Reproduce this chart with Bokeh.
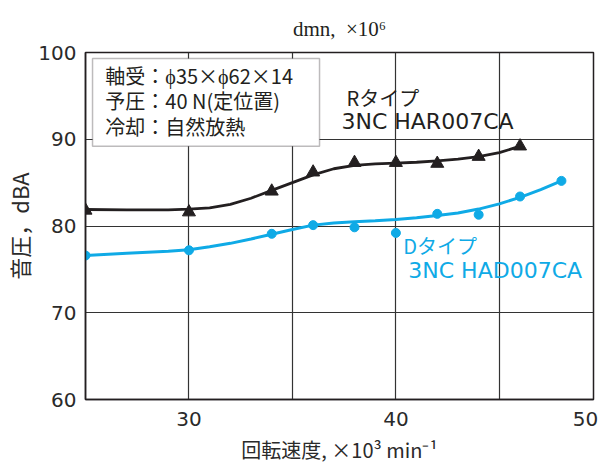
from bokeh.plotting import figure
from bokeh.models import Label, BoxAnnotation, FixedTicker
from bokeh.embed import file_html
from bokeh.resources import INLINE

# ---- data ----
r_x = [25, 30, 34, 36, 38, 40, 42, 44, 46]
r_y = [81.8, 81.6, 84.0, 86.2, 87.3, 87.3, 87.2, 88.0, 89.2]
r_curve_x = [25, 27, 29, 30, 31, 32, 33, 34, 35, 36, 37, 38, 39, 40, 41, 42, 43, 44, 45, 46]
r_curve_y = [81.9, 81.85, 81.85, 81.95, 82.1, 82.5, 83.2, 84.1, 85.0, 85.9, 86.6, 87.0,
             87.15, 87.25, 87.35, 87.5, 87.7, 88.0, 88.45, 89.2]

d_x = [25, 30, 34, 36, 38, 40, 42, 44, 46, 48]
d_y = [76.6, 77.2, 79.1, 80.1, 79.85, 79.2, 81.4, 81.3, 83.4, 85.2]
d_curve_x = [25, 27, 29, 30, 31, 32, 33, 34, 35, 36, 37, 38, 39, 40, 41, 42, 43, 44, 45, 46, 47, 48]
d_curve_y = [76.6, 76.85, 77.1, 77.25, 77.6, 78.0, 78.5, 79.05, 79.6, 80.1, 80.35, 80.5,
             80.6, 80.75, 80.95, 81.2, 81.5, 81.95, 82.55, 83.3, 84.2, 85.2]

x_ticks = [30, 40, 50]
x_grid = [30, 35, 40, 45]
y_ticks = [60, 70, 80, 90, 100]
y_grid = [70, 80, 90]

info_lines = ["軸受：ϕ35×ϕ62×14", "予圧：40 N(定位置)", "冷却：自然放熱"]
r_label = ["Rタイプ", "3NC HAR007CA"]
d_label = ["Dタイプ", "3NC HAD007CA"]
top_title = "dmn,\u00a0\u00a0×10⁶"

BLACK = "#231F20"
BLUE = "#0FAAE6"
TXT = "#2a2a2a"
X_END = 49.55

p = figure(width=604, height=466, x_range=(25, X_END), y_range=(60, 100),
           output_backend="svg", toolbar_location=None,
           min_border_left=83, min_border_right=11, min_border_top=52, min_border_bottom=66)
p.background_fill_color = "white"
p.border_fill_color = "white"
p.outline_line_color = BLACK
p.outline_line_width = 1.5

# title (dmn scale)
p.title.text = top_title
p.title.align = "center"
p.title.vertical_align = "top"
p.title.text_font = "Liberation Serif"
p.title.text_font_size = "21px"
p.title.text_font_style = "normal"
p.title.text_color = BLACK
p.title.standoff = 20

# axes: ticks that fall at/after the range end are placed on the end
xt = [min(t, X_END) for t in x_ticks]
p.xaxis.ticker = FixedTicker(ticks=xt)
p.xaxis.major_label_overrides = {X_END: str(x_ticks[-1]) + "\u00a0"}
p.yaxis.ticker = FixedTicker(ticks=y_ticks)
for ax in (p.xaxis[0], p.yaxis[0]):
    ax.axis_line_color = BLACK
    ax.axis_line_width = 1.5
    ax.major_tick_line_color = None
    ax.minor_tick_line_color = None
    ax.major_tick_out = 0
    ax.major_tick_in = 0
    ax.minor_tick_out = 0
    ax.major_label_text_font = "DejaVu Sans"
    ax.major_label_text_font_size = "20px"
    ax.major_label_text_color = TXT
    ax.axis_label_text_font = "Noto Sans CJK JP"
    ax.axis_label_text_font_style = "normal"
    ax.axis_label_text_color = TXT
p.xaxis.axis_label_text_font_size = "20px"
p.yaxis.axis_label_text_font_size = "22px"
p.xaxis.major_label_standoff = 7
p.yaxis.major_label_standoff = 9
p.xaxis.axis_label = "回転速度, ×10³ min⁻¹"
p.yaxis.axis_label = "音圧，dBA"
p.xaxis.axis_label_standoff = 1
p.yaxis.axis_label_standoff = 0

p.xgrid.ticker = FixedTicker(ticks=x_grid)
p.ygrid.ticker = FixedTicker(ticks=y_grid)
for g in (p.xgrid[0], p.ygrid[0]):
    g.grid_line_color = "#333333"
    g.grid_line_width = 1.2

# curves and points
p.line(r_curve_x, r_curve_y, line_color=BLACK, line_width=2.8)
p.scatter(r_x, r_y, marker="triangle", size=13, fill_color=BLACK, line_color=BLACK)
p.line(d_curve_x, d_curve_y, line_color=BLUE, line_width=3)
p.scatter(d_x, d_y, marker="circle", size=9, fill_color=BLUE, line_color=BLUE)

# info box
p.add_layout(BoxAnnotation(left=25.34, right=36.31, top=99.31, bottom=89.2,
                           fill_color="white", fill_alpha=1.0,
                           line_color=BLACK, line_width=1.5, level="overlay"))
for i, t in enumerate(info_lines):
    p.add_layout(Label(x=25.96, y=97.36 - i * 2.95, text=t, text_baseline="middle",
                       text_font="Noto Sans CJK JP", text_font_size="20px",
                       text_color=BLACK, level="overlay"))

# series labels
p.add_layout(Label(x=37.61, y=94.83, text=r_label[0], text_baseline="middle",
                   text_font="Noto Sans CJK JP", text_font_size="20px", text_color=BLACK))
p.add_layout(Label(x=37.37, y=92.07, text=r_label[1], text_baseline="middle",
                   text_font="DejaVu Sans", text_font_size="22px", text_color=BLACK))
p.add_layout(Label(x=40.35, y=77.7, text=d_label[0], text_baseline="middle",
                   text_font="Noto Sans CJK JP", text_font_size="20px", text_color=BLUE))
p.add_layout(Label(x=40.6, y=74.83, text=d_label[1], text_baseline="middle",
                   text_font="DejaVu Sans", text_font_size="22px", text_color=BLUE))

open("out.html", "w").write(file_html(p, INLINE))
